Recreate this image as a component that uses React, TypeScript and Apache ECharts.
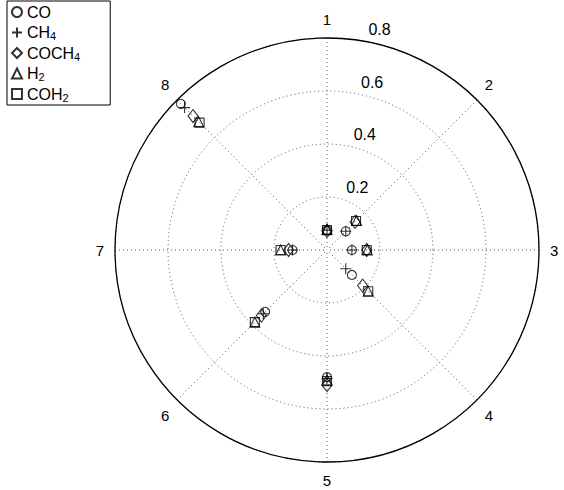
import React, { useEffect, useRef } from "react";
import * as echarts from "echarts";

const directions = ["1", "2", "3", "4", "5", "6", "7", "8"];
const radialMax = 0.8;
const radialStep = 0.2;

const coValues = [0.075, 0.1, 0.094, 0.133, 0.48, 0.33, 0.13, 0.78];
const ch4Values = [0.075, 0.1, 0.094, 0.1, 0.485, 0.34, 0.13, 0.76];
const coch4Values = [0.072, 0.15, 0.15, 0.19, 0.51, 0.35, 0.145, 0.715];
const h2Values = [0.078, 0.158, 0.152, 0.22, 0.49, 0.385, 0.175, 0.685];
const coh2Values = [0.075, 0.155, 0.15, 0.22, 0.495, 0.385, 0.175, 0.68];

const seriesNames = ["CO", "CH4", "COCH4", "H2", "COH2"];
const seriesValues = [coValues, ch4Values, coch4Values, h2Values, coh2Values];
const seriesSymbols = [
  "circle",
  "path://M5,0L5,10M0,5L10,5",
  "diamond",
  "triangle",
  "rect",
];
const seriesSizes: any[] = [9, 11, [10, 13], 10, 9];

const FONT = "'Liberation Sans', Arial, sans-serif";

export default function App() {
  const ref = useRef<HTMLDivElement>(null);
  useEffect(() => {
    if (!ref.current) return;
    const chart = echarts.init(ref.current, null, { renderer: "svg" });
    const center = [327, 250];
    const radius = 212;
    const n = directions.length;
    const option: any = {
      animation: false,
      backgroundColor: "#fff",
      textStyle: { fontFamily: FONT },
      polar: [
        { center, radius },
        { center, radius },
      ],
      angleAxis: [
        {
          polarIndex: 0,
          type: "value",
          min: 0,
          max: n,
          interval: 1,
          startAngle: 90,
          clockwise: true,
          axisLine: { show: true, lineStyle: { color: "#000", width: 1.3 } },
          axisTick: { show: false },
          axisLabel: {
            color: "#000",
            fontSize: 15,
            fontFamily: FONT,
            margin: 11,
            formatter: (v: number) => (v < n ? directions[v] : ""),
          },
          splitLine: {
            show: true,
            lineStyle: { color: "#555", type: [1, 3], width: 1 },
          },
          z: 1,
        },
        {
          polarIndex: 1,
          type: "value",
          min: 0,
          max: 360,
          startAngle: 82,
          clockwise: true,
          axisLine: { show: false },
          axisTick: { show: false },
          axisLabel: { show: false },
          splitLine: { show: false },
        },
      ],
      radiusAxis: [
        {
          polarIndex: 0,
          type: "value",
          min: 0,
          max: radialMax,
          interval: radialStep,
          axisLine: { show: false },
          axisTick: { show: false },
          axisLabel: { show: false },
          splitLine: {
            show: true,
            lineStyle: { color: "#555", type: [1, 3], width: 1 },
          },
        },
        {
          polarIndex: 1,
          type: "value",
          min: 0,
          max: radialMax,
          interval: radialStep,
          axisLine: { show: false },
          axisTick: { show: false },
          splitLine: { show: false },
          axisLabel: {
            show: true,
            color: "#000",
            fontSize: 16,
            fontFamily: FONT,
            margin: -12,
            align: "left",
            verticalAlign: "bottom",
            padding: [0, 0, 4, 0],
            formatter: (v: number) => (v === 0 ? "" : String(+v.toFixed(1))),
          },
        },
      ],
      legend: {
        orient: "vertical",
        left: 7,
        top: 1,
        padding: [2, 30, 2, 4],
        itemGap: 1.5,
        itemWidth: 10,
        itemHeight: 10,
        borderColor: "#000",
        borderWidth: 1,
        backgroundColor: "#fff",
        data: seriesNames,
        formatter: (name: string) => name.replace(/(\d+)/g, "{s|$1}"),
        textStyle: {
          color: "#000",
          fontSize: 16,
          lineHeight: 18,
          fontFamily: FONT,
          rich: {
            s: {
              fontSize: 11,
              fontFamily: FONT,
              color: "#000",
              verticalAlign: "bottom",
              lineHeight: 18,
              padding: [8, 0, 0, 0],
            },
          },
        },
      },
      series: seriesNames.map((name, k) => ({
        name,
        type: "scatter",
        coordinateSystem: "polar",
        polarIndex: 0,
        symbol: seriesSymbols[k],
        symbolSize: seriesSizes[k],
        itemStyle: { color: "transparent", borderColor: "#000", borderWidth: 1.1 },
        emphasis: { disabled: true },
        data: seriesValues[k].map((v, i) => [v, i]),
        z: 5,
      })),
    };
    chart.setOption(option);
    return () => chart.dispose();
  }, []);
  return (
    <div
      ref={ref}
      style={{ position: "fixed", left: 0, top: 0, width: 564, height: 490 }}
    />
  );
}
